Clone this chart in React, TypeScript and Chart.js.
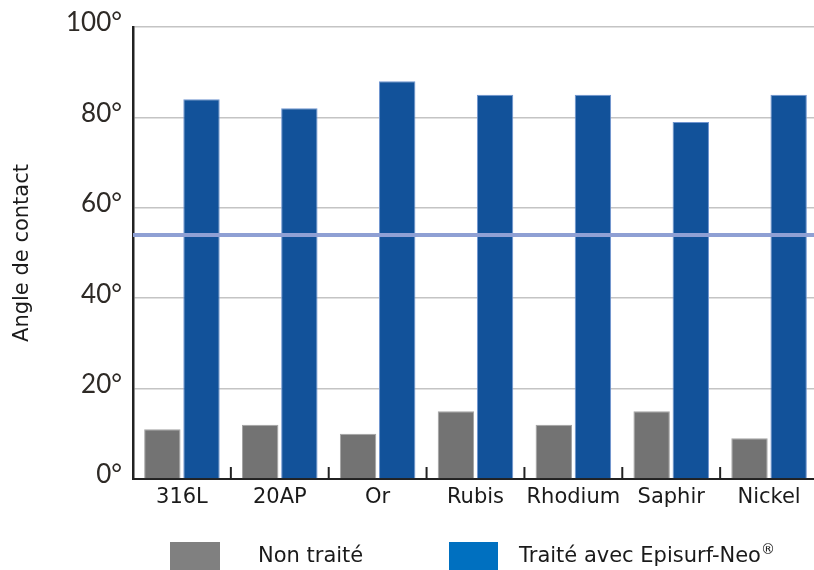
import React, { useEffect, useRef } from "react";
import { Chart, registerables } from "chart.js";

Chart.register(...registerables);

const categories = ["316L", "20AP", "Or", "Rubis", "Rhodium", "Saphir", "Nickel"];
const untreated = [11, 12, 10, 15, 12, 15, 9];
const treated = [84, 82, 88, 85, 85, 79, 85];
const referenceAngle = 54;
const yTicks = [0, 20, 40, 60, 80, 100];
const seriesNames = ["Non traité", "Traité avec Episurf-Neo"];

const FONT = "'DejaVu Sans', Verdana, sans-serif";

const refLinePlugin = {
  id: "refLine",
  afterDatasetsDraw(chart: any) {
    const { ctx, chartArea, scales } = chart;
    const y = scales.y.getPixelForValue(referenceAngle);
    ctx.save();
    ctx.strokeStyle = "#8fa0d4";
    ctx.lineWidth = 4;
    ctx.beginPath();
    ctx.moveTo(chartArea.left, y);
    ctx.lineTo(chartArea.right, y);
    ctx.stroke();
    ctx.restore();
  },
};

const innerTicksPlugin = {
  id: "innerTicks",
  afterDraw(chart: any) {
    const { ctx, chartArea, scales } = chart;
    const x = scales.x;
    ctx.save();
    ctx.strokeStyle = "#222";
    ctx.lineWidth = 2;
    for (let i = 0; i < categories.length - 1; i++) {
      const px = (x.getPixelForValue(i) + x.getPixelForValue(i + 1)) / 2;
      ctx.beginPath();
      ctx.moveTo(px, chartArea.bottom);
      ctx.lineTo(px, chartArea.bottom - 12);
      ctx.stroke();
    }
    ctx.restore();
  },
};

export default function App() {
  const ref = useRef<HTMLCanvasElement | null>(null);

  useEffect(() => {
    if (!ref.current) return;
    const chart = new Chart(ref.current, {
      type: "bar",
      data: {
        labels: categories,
        datasets: [
          {
            label: seriesNames[0],
            data: untreated,
            backgroundColor: "#737373",
            borderColor: "#a3a3a3",
            borderWidth: 1,
            categoryPercentage: 0.8,
            barPercentage: 0.93,
          },
          {
            label: seriesNames[1],
            data: treated,
            backgroundColor: "#12529a",
            borderColor: "#7095d0",
            borderWidth: 1,
            categoryPercentage: 0.8,
            barPercentage: 0.93,
          },
        ],
      },
      options: {
        responsive: false,
        animation: false,
        devicePixelRatio: 1,
        layout: { padding: { top: 27, left: 0, right: 0, bottom: 0 } },
        plugins: {
          legend: { display: false },
          tooltip: { enabled: false },
        },
        scales: {
          x: {
            grid: { display: false, drawTicks: false },
            border: { display: true, color: "#222", width: 2 },
            ticks: {
              color: "#1a1a1a",
              font: { family: FONT, size: 21 },
              padding: 6,
              maxRotation: 0,
              autoSkip: false,
            },
            afterFit(scale: any) {
              scale.height = 91;
            },
          },
          y: {
            min: 0,
            max: 100,
            afterBuildTicks(scale: any) {
              scale.ticks = yTicks.map((v) => ({ value: v }));
            },
            grid: { color: "#c4c4c4", lineWidth: 1.5, drawTicks: false },
            border: { display: true, color: "#222", width: 2.5 },
            ticks: {
              color: "#2e2a26",
              font: { family: "Lato, 'DejaVu Sans', sans-serif", size: 26 },
              padding: 11,
              labelOffset: -4,
              callback: (v: any) => v + "°",
            },
            title: {
              display: true,
              text: "Angle de contact",
              color: "#1a1a1a",
              font: { family: FONT, size: 21 },
              padding: { top: 10, bottom: 0 },
            },
            afterFit(scale: any) {
              scale.width = 133;
            },
          },
        },
      },
      plugins: [refLinePlugin, innerTicksPlugin],
    } as any);
    return () => chart.destroy();
  }, []);

  const textStyle: React.CSSProperties = {
    position: "absolute",
    top: 543,
    fontFamily: FONT,
    fontSize: 21,
    lineHeight: "25px",
    color: "#1a1a1a",
    whiteSpace: "nowrap",
  };

  return (
    <div
      style={{
        position: "absolute",
        left: 0,
        top: 0,
        width: 814,
        height: 570,
        overflow: "hidden",
        background: "#fff",
      }}
    >
      <canvas ref={ref} width={818} height={570} style={{ display: "block" }} />
      <div style={{ position: "absolute", left: 170, top: 542, width: 50, height: 30, background: "#808080" }} />
      <div style={{ ...textStyle, left: 258 }}>{seriesNames[0]}</div>
      <div style={{ position: "absolute", left: 449, top: 542, width: 49, height: 30, background: "#0070c0" }} />
      <div style={{ ...textStyle, left: 519 }}>
        {seriesNames[1]}
        <sup style={{ fontSize: 14, lineHeight: 0, verticalAlign: "8px" }}>®</sup>
      </div>
    </div>
  );
}
